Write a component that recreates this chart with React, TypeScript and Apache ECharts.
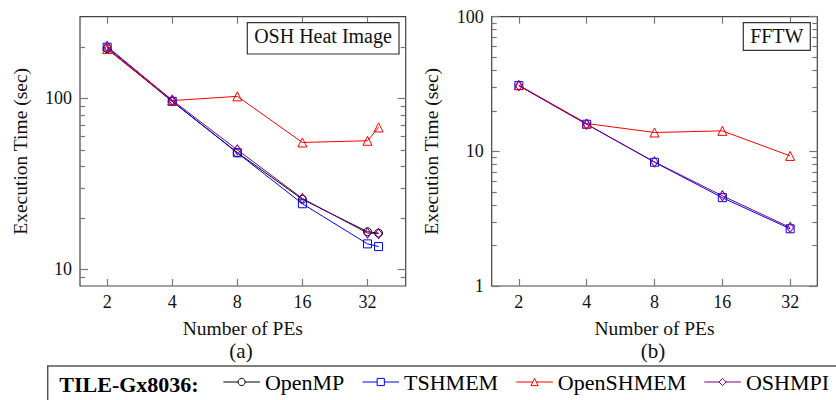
import React, { useEffect, useRef } from "react";
import * as echarts from "echarts";

// Number of processing elements on each run
const pesHeat = [2, 4, 8, 16, 32, 36];
const pesFFTW = [2, 4, 8, 16, 32];

// OSH Heat Image execution time (sec)
const heatOpenMP = [195, 96, 48.2, 25.7, 16.6, 16.3];
const heatTSHMEM = [199, 96, 48, 24.2, 14.1, 13.6];
const heatOpenSHMEM = [194, 97, 102.7, 55.2, 56.5, 67.6];
const heatOSHMPI = [201, 97.5, 50, 26, 16.3, 16.2];

// FFTW execution time (sec)
const fftwTSHMEM = [30.8, 15.9, 8.3, 4.53, 2.66];
const fftwOpenSHMEM = [31, 16.1, 13.8, 14.2, 9.25];
const fftwOSHMPI = [30.8, 15.9, 8.35, 4.68, 2.72];

// Axis ticks
const xTicks = [2, 4, 8, 16, 32];
const heatMajor = [10, 100];
const heatMinor = [9, 20, 30, 40, 50, 60, 70, 80, 90, 200];
const fftwMajor = [1, 10, 100];
const fftwMinor = [2, 3, 4, 5, 6, 7, 8, 9, 20, 30, 40, 50, 60, 70, 80, 90];

const SERIF = "'Liberation Serif', 'DejaVu Serif', serif";
const FRAME = "#444";
const TICK = "#777";

const styles: Record<string, { color: string; symbol: string; size: number | number[] }> = {
  OpenMP: { color: "#000000", symbol: "circle", size: 8 },
  TSHMEM: { color: "#0000ff", symbol: "rect", size: 8 },
  OpenSHMEM: { color: "#ff0000", symbol: "triangle", size: 9 },
  OSHMPI: { color: "#800080", symbol: "diamond", size: [7, 10] },
};

const zip = (xs: number[], ys: number[]) => xs.map((x, i) => [x, ys[i]]);

function makeSeries(name: string, xs: number[], ys: number[], xi: number, yi: number) {
  const s = styles[name];
  return {
    name,
    type: "line",
    xAxisIndex: xi,
    yAxisIndex: yi,
    data: zip(xs, ys),
    symbol: s.symbol,
    symbolSize: s.size,
    showSymbol: true,
    lineStyle: { color: s.color, width: 1 },
    itemStyle: { color: "transparent", borderColor: s.color, borderWidth: 1 },
    emphasis: { disabled: true },
    silent: true,
  };
}

function xAxes(grid: number, min: number, max: number) {
  const common = {
    type: "log",
    logBase: 2,
    gridIndex: grid,
    min,
    max,
    splitLine: { show: false },
    axisLine: { show: false },
    minorTick: { show: false },
  };
  return [
    {
      ...common,
      position: "bottom",
      axisTick: { show: true, inside: true, length: 7, customValues: xTicks, lineStyle: { color: TICK, width: 1.2 } },
      axisLabel: { show: true, customValues: xTicks, margin: 7, fontSize: 18, fontFamily: SERIF, color: "#111" },
      name: "Number of PEs",
      nameLocation: "middle",
      nameGap: 32,
      nameTextStyle: { fontSize: 19.5, fontFamily: SERIF, color: "#111" },
    },
    {
      ...common,
      position: "top",
      axisTick: { show: true, inside: true, length: 7, customValues: xTicks, lineStyle: { color: TICK, width: 1.2 } },
      axisLabel: { show: false },
    },
  ];
}

function yAxes(grid: number, min: number, max: number, major: number[], minor: number[]) {
  const common = {
    type: "log",
    logBase: 10,
    gridIndex: grid,
    min,
    max,
    splitLine: { show: false },
    axisLine: { show: false },
    minorTick: { show: false },
  };
  const tick = (vals: number[], len: number) => ({
    show: true,
    inside: true,
    length: len,
    customValues: vals,
    lineStyle: { color: TICK, width: 1.2 },
  });
  return [
    {
      ...common,
      position: "left",
      axisTick: tick(major, 8),
      axisLabel: { show: true, customValues: major, margin: 8, fontSize: 18, fontFamily: SERIF, color: "#111" },
      name: "Execution Time (sec)",
      nameLocation: "middle",
      nameRotate: 90,
      nameGap: 50,
      nameTextStyle: { fontSize: 19.5, fontFamily: SERIF, color: "#111" },
    },
    { ...common, position: "left", axisTick: tick(minor, 5), axisLabel: { show: false } },
    { ...common, position: "right", axisTick: tick(major, 8), axisLabel: { show: false } },
    { ...common, position: "right", axisTick: tick(minor, 5), axisLabel: { show: false } },
  ];
}

export default function App() {
  const ref = useRef<HTMLDivElement>(null);

  useEffect(() => {
    if (!ref.current) return;
    const chart = echarts.init(ref.current, null, { renderer: "svg" });

    const option = {
      animation: false,
      backgroundColor: "#ffffff",
      grid: [
        { left: 80, top: 16.7, width: 325.7, height: 269.3, show: true, borderColor: FRAME, borderWidth: 1.2, backgroundColor: "transparent" },
        { left: 491.7, top: 16.7, width: 325.6, height: 269.3, show: true, borderColor: FRAME, borderWidth: 1.2, backgroundColor: "transparent" },
      ],
      xAxis: [
        ...xAxes(0, Math.pow(2, 0.583), Math.pow(2, 5.587)),
        ...xAxes(1, Math.pow(2, 0.6), Math.pow(2, 5.4)),
      ],
      yAxis: [
        ...yAxes(0, 8, 300, heatMajor, heatMinor),
        ...yAxes(1, 1, 100, fftwMajor, fftwMinor),
      ],
      legend: {
        left: 222.7,
        top: 371,
        width: 640,
        itemWidth: 36.6,
        itemHeight: 9,
        itemGap: 17.5,
        padding: 0,
        selectedMode: false,
        itemStyle: { color: "#ffffff", borderWidth: 1 },
        lineStyle: { width: 1.2 },
        textStyle: { fontSize: 22, fontFamily: SERIF, color: "#000" },
        data: ["OpenMP", "TSHMEM", "OpenSHMEM", "OSHMPI"],
      },
      series: [
        makeSeries("OpenMP", pesHeat, heatOpenMP, 0, 0),
        makeSeries("TSHMEM", pesHeat, heatTSHMEM, 0, 0),
        makeSeries("OpenSHMEM", pesHeat, heatOpenSHMEM, 0, 0),
        makeSeries("OSHMPI", pesHeat, heatOSHMPI, 0, 0),
        makeSeries("TSHMEM", pesFFTW, fftwTSHMEM, 2, 4),
        makeSeries("OpenSHMEM", pesFFTW, fftwOpenSHMEM, 2, 4),
        makeSeries("OSHMPI", pesFFTW, fftwOSHMPI, 2, 4),
      ],
      graphic: [
        // plot title boxes
        { type: "rect", shape: { x: 247.3, y: 22.7, width: 151.7, height: 31.3 }, style: { fill: "#fff", stroke: "#333", lineWidth: 1.2 }, z: 10 },
        { type: "text", x: 323, y: 36, style: { text: "OSH Heat Image", fontSize: 20, fontFamily: SERIF, fill: "#111", align: "center", verticalAlign: "middle" }, z: 11 },
        { type: "rect", shape: { x: 743.3, y: 22.7, width: 67, height: 27.6 }, style: { fill: "#fff", stroke: "#333", lineWidth: 1.2 }, z: 10 },
        { type: "text", x: 776.8, y: 36, style: { text: "FFTW", fontSize: 20, fontFamily: SERIF, fill: "#111", align: "center", verticalAlign: "middle" }, z: 11 },
        // sub-figure captions
        { type: "text", x: 241, y: 351, style: { text: "(a)", fontSize: 21, fontFamily: SERIF, fill: "#111", align: "center", verticalAlign: "middle" } },
        { type: "text", x: 653, y: 351, style: { text: "(b)", fontSize: 21, fontFamily: SERIF, fill: "#111", align: "center", verticalAlign: "middle" } },
        // shared legend frame
        { type: "rect", shape: { x: 47.7, y: 366, width: 900, height: 60 }, style: { fill: "none", stroke: "#555", lineWidth: 1.5 } },
        { type: "text", x: 59.3, y: 384, style: { text: "TILE-Gx8036:", fontSize: 22, fontWeight: "bold", fontFamily: SERIF, fill: "#000", align: "left", verticalAlign: "middle" } },
      ],
    };

    chart.setOption(option as any);
    return () => chart.dispose();
  }, []);

  return (
    <div
      ref={ref}
      style={{ position: "fixed", left: 0, top: 0, width: 836, height: 400 }}
    />
  );
}
